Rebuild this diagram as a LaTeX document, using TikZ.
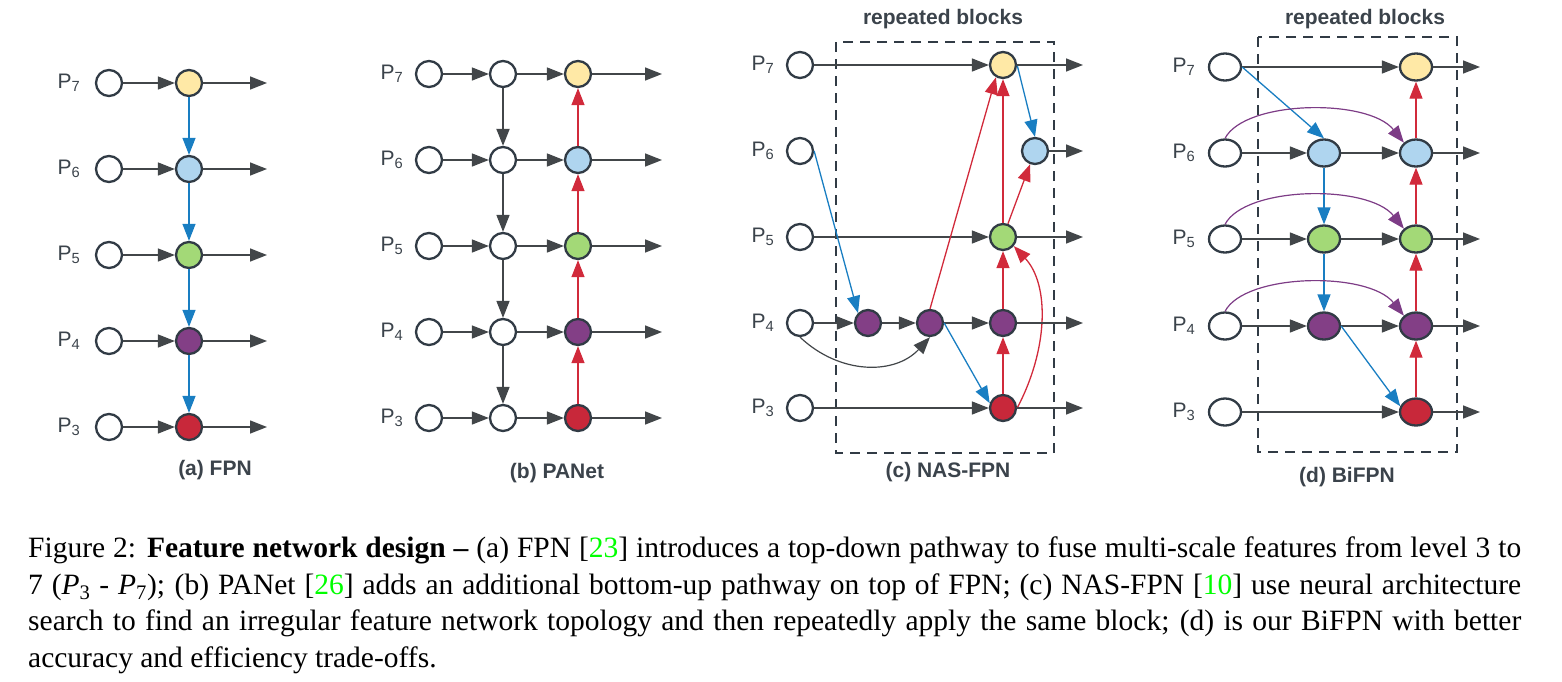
\documentclass[tikz,border=0pt]{standalone}
\usepackage{fontspec}
\setmainfont{Liberation Serif}
\setsansfont{Liberation Sans}
\usetikzlibrary{arrows.meta, positioning, shapes.geometric}
\definecolor{nodeline}{HTML}{313B45}
\definecolor{txtgray}{HTML}{3B434B}
\definecolor{arrgray}{HTML}{424649}
\definecolor{myyellow}{HTML}{FFE9A6}
\definecolor{myblue}{HTML}{AFD5EF}
\definecolor{mygreen}{HTML}{A3D977}
\definecolor{mypurple}{HTML}{833F86}
\definecolor{myred}{HTML}{C8283A}
\definecolor{upred}{HTML}{D12A3B}
\definecolor{downblue}{HTML}{197EC2}
\definecolor{skippurple}{HTML}{7D3C86}
\definecolor{citegreen}{HTML}{00FF00}
\tikzset{
	defaultnode/.style={
			circle,
			draw=nodeline,
			line width=2.3pt,
			fill=white,
			minimum size=26pt,
			inner sep=0pt
		},
	ovalnode/.style={
			defaultnode,
			ellipse,
			minimum width=32pt,
			minimum height=27pt
		},
	yellownode/.style={fill=myyellow},
	bluenode/.style={fill=myblue},
	greennode/.style={fill=mygreen},
	purplenode/.style={fill=mypurple},
	rednode/.style={fill=myred},
	flow/.style={
			-{Triangle[length=17pt,width=13pt]},
			draw=arrgray,
			line width=1.5pt
		},
	downflow/.style={flow, draw=downblue, line width=1.3pt},
	upflow/.style={flow, draw=upred, line width=1.3pt},
	sideflow/.style={flow, draw=skippurple, line width=1.2pt},
	levellabel/.style={
			font=\sffamily\fontsize{21}{24}\selectfont,
			text=txtgray,
			inner sep=0pt
		},
	panellabel/.style={
			font=\sffamily\bfseries\fontsize{21}{24}\selectfont,
			text=txtgray,
			inner sep=0pt
		},
	blockbox/.style={
			draw=nodeline,
			line width=2.3pt,
			dash pattern=on 10pt off 7pt
		}
}

\begin{document}
\begin{tikzpicture}[x=1pt, y=-1pt]
    \useasboundingbox (0,0) rectangle (1562,681);

    % (a) FPN
    \node[levellabel] (la7) at (69,83) {P\textsubscript{7}};
    \node[levellabel] (la6) at (69,169) {P\textsubscript{6}};
    \node[levellabel] (la5) at (69,255) {P\textsubscript{5}};
    \node[levellabel] (la4) at (69,341) {P\textsubscript{4}};
    \node[levellabel] (la3) at (69,427) {P\textsubscript{3}};
    \node[defaultnode] (a7) at (109,83) {};
    \node[defaultnode] (a6) at (109,169) {};
    \node[defaultnode] (a5) at (109,255) {};
    \node[defaultnode] (a4) at (109,341) {};
    \node[defaultnode] (a3) at (109,427) {};
    \node[defaultnode, yellownode] (ay) at (189,83) {};
    \node[defaultnode, bluenode] (ab) at (189,169) {};
    \node[defaultnode, greennode] (ag) at (189,255) {};
    \node[defaultnode, purplenode] (ap) at (189,341) {};
    \node[defaultnode, rednode] (ar) at (189,427) {};
    \coordinate (ao7) at (267,83);
    \coordinate (ao6) at (267,169);
    \coordinate (ao5) at (267,255);
    \coordinate (ao4) at (267,341);
    \coordinate (ao3) at (267,427);

    \draw[flow] (a7) -- (ay);
    \draw[flow] (a6) -- (ab);
    \draw[flow] (a5) -- (ag);
    \draw[flow] (a4) -- (ap);
    \draw[flow] (a3) -- (ar);
    \draw[flow] (ay) -- (ao7);
    \draw[flow] (ab) -- (ao6);
    \draw[flow] (ag) -- (ao5);
    \draw[flow] (ap) -- (ao4);
    \draw[flow] (ar) -- (ao3);
    \draw[downflow] (ay) -- (ab);
    \draw[downflow] (ab) -- (ag);
    \draw[downflow] (ag) -- (ap);
    \draw[downflow] (ap) -- (ar);
    \node[panellabel] (ta) at (215,470) {(a) FPN};

    % (b) PANet
    \node[levellabel] (lb7) at (392,74) {P\textsubscript{7}};
    \node[levellabel] (lb6) at (392,160) {P\textsubscript{6}};
    \node[levellabel] (lb5) at (392,246) {P\textsubscript{5}};
    \node[levellabel] (lb4) at (392,332) {P\textsubscript{4}};
    \node[levellabel] (lb3) at (392,418) {P\textsubscript{3}};
    \node[defaultnode] (b7) at (429,74) {};
    \node[defaultnode] (b6) at (429,160) {};
    \node[defaultnode] (b5) at (429,246) {};
    \node[defaultnode] (b4) at (429,332) {};
    \node[defaultnode] (b3) at (429,418) {};
    \node[defaultnode] (bm7) at (503,74) {};
    \node[defaultnode] (bm6) at (503,160) {};
    \node[defaultnode] (bm5) at (503,246) {};
    \node[defaultnode] (bm4) at (503,332) {};
    \node[defaultnode] (bm3) at (503,418) {};
    \node[defaultnode, yellownode] (by) at (578,74) {};
    \node[defaultnode, bluenode] (bb) at (578,160) {};
    \node[defaultnode, greennode] (bg) at (578,246) {};
    \node[defaultnode, purplenode] (bp) at (578,332) {};
    \node[defaultnode, rednode] (br) at (578,418) {};
    \coordinate (bo7) at (662,74);
    \coordinate (bo6) at (662,160);
    \coordinate (bo5) at (662,246);
    \coordinate (bo4) at (662,332);
    \coordinate (bo3) at (662,418);

    \draw[flow] (b7) -- (bm7);
    \draw[flow] (b6) -- (bm6);
    \draw[flow] (b5) -- (bm5);
    \draw[flow] (b4) -- (bm4);
    \draw[flow] (b3) -- (bm3);
    \draw[flow] (bm7) -- (by);
    \draw[flow] (bm6) -- (bb);
    \draw[flow] (bm5) -- (bg);
    \draw[flow] (bm4) -- (bp);
    \draw[flow] (bm3) -- (br);
    \draw[flow] (by) -- (bo7);
    \draw[flow] (bb) -- (bo6);
    \draw[flow] (bg) -- (bo5);
    \draw[flow] (bp) -- (bo4);
    \draw[flow] (br) -- (bo3);
    \draw[flow, line width=1.9pt] (bm7) -- (bm6);
    \draw[flow] (bm6) -- (bm5);
    \draw[flow] (bm5) -- (bm4);
    \draw[flow] (bm4) -- (bm3);
    \draw[upflow] (br) -- (bp);
    \draw[upflow] (bp) -- (bg);
    \draw[upflow] (bg) -- (bb);
    \draw[upflow] (bb) -- (by);
    \node[panellabel] (tb) at (557,473) {(b) PANet};

    % (c) NAS-FPN
    \draw[blockbox] (836,42) rectangle (1054,453);
    \node[panellabel] (rc) at (943,19) {repeated blocks};
    \node[levellabel] (lc7) at (763,65) {P\textsubscript{7}};
    \node[levellabel] (lc6) at (763,151) {P\textsubscript{6}};
    \node[levellabel] (lc5) at (763,237) {P\textsubscript{5}};
    \node[levellabel] (lc4) at (763,323) {P\textsubscript{4}};
    \node[levellabel] (lc3) at (763,408) {P\textsubscript{3}};
    \node[defaultnode] (c7) at (800,65) {};
    \node[defaultnode] (c6) at (800,151) {};
    \node[defaultnode] (c5) at (800,237) {};
    \node[defaultnode] (c4) at (800,323) {};
    \node[defaultnode] (c3) at (800,408) {};
    \node[defaultnode, purplenode] (cp1) at (868,323) {};
    \node[defaultnode, purplenode] (cp2) at (930,323) {};
    \node[defaultnode, purplenode] (cp3) at (1003,323) {};
    \node[defaultnode, yellownode] (cy) at (1003,65) {};
    \node[defaultnode, bluenode] (cb) at (1035,151) {};
    \node[defaultnode, greennode] (cg) at (1003,237) {};
    \node[defaultnode, rednode] (cr) at (1003,408) {};
    \coordinate (co7) at (1083,65);
    \coordinate (co6) at (1083,151);
    \coordinate (co5) at (1083,237);
    \coordinate (co4) at (1083,323);
    \coordinate (co3) at (1083,408);

    \draw[flow] (c7) -- (cy);
    \draw[flow] (c5) -- (cg);
    \draw[flow] (c4) -- (cp1);
    \draw[flow] (c3) -- (cr);
    \draw[flow] (cp1) -- (cp2);
    \draw[flow] (cp2) -- (cp3);
    \draw[flow, line width=1.2pt] (c4.south) .. controls (840,375) and (895,375) .. (cp2.south);
    \draw[downflow] (c6.east) -- (cp1.north west);
    \draw[downflow] (cp2.east) -- (cr.160);
    \draw[downflow] (cy.east) -- (cb.north);
    \draw[upflow] (cp2.north) -- (cy.240);
    \draw[upflow] (cr) -- (cp3);
    \draw[upflow] (cp3) -- (cg);
    \draw[upflow] (cg) -- (cy);
    \draw[upflow] (cg) -- (cb);
    \draw[upflow] (cr.east) .. controls (1048,350) and (1050,285) .. (cg.-40);
    \draw[flow] (cy) -- (co7);
    \draw[flow] (cb) -- (co6);
    \draw[flow] (cg) -- (co5);
    \draw[flow] (cp3) -- (co4);
    \draw[flow] (cr) -- (co3);
    \node[panellabel] (tc) at (948,472) {(c) NAS-FPN};

    % (d) BiFPN
    \draw[blockbox] (1258,37) rectangle (1457,452);
    \node[panellabel] (rd) at (1365,19) {repeated blocks};
    \node[levellabel] (ld7) at (1184,67) {P\textsubscript{7}};
    \node[levellabel] (ld6) at (1184,153) {P\textsubscript{6}};
    \node[levellabel] (ld5) at (1184,239) {P\textsubscript{5}};
    \node[levellabel] (ld4) at (1184,326) {P\textsubscript{4}};
    \node[levellabel] (ld3) at (1184,412) {P\textsubscript{3}};
    \node[ovalnode] (d7) at (1225,67) {};
    \node[ovalnode] (d6) at (1225,153) {};
    \node[ovalnode] (d5) at (1225,239) {};
    \node[ovalnode] (d4) at (1225,326) {};
    \node[ovalnode] (d3) at (1225,412) {};
    \node[ovalnode, bluenode] (db1) at (1324,153) {};
    \node[ovalnode, greennode] (dg1) at (1324,239) {};
    \node[ovalnode, purplenode] (dp1) at (1324,326) {};
    \node[ovalnode, yellownode] (dy) at (1416,67) {};
    \node[ovalnode, bluenode] (db2) at (1416,153) {};
    \node[ovalnode, greennode] (dg2) at (1416,239) {};
    \node[ovalnode, purplenode] (dp2) at (1416,326) {};
    \node[ovalnode, rednode] (dr) at (1416,412) {};
    \coordinate (do7) at (1480,67);
    \coordinate (do6) at (1480,153);
    \coordinate (do5) at (1480,239);
    \coordinate (do4) at (1480,326);
    \coordinate (do3) at (1480,412);

    \draw[flow] (d7) -- (dy);
    \draw[flow] (d6) -- (db1);
    \draw[flow] (d5) -- (dg1);
    \draw[flow] (d4) -- (dp1);
    \draw[flow] (d3) -- (dr);
    \draw[flow] (db1) -- (db2);
    \draw[flow] (dg1) -- (dg2);
    \draw[flow] (dp1) -- (dp2);
    \draw[downflow] (d7.east) -- (db1.north);
    \draw[downflow] (db1) -- (dg1);
    \draw[downflow] (dg1) -- (dp1);
    \draw[downflow] (dp1.east) -- (dr.160);
    \draw[sideflow] (d6.north) .. controls (1245,100) and (1368,98) .. (db2.north west);
    \draw[sideflow] (d5.north) .. controls (1245,186) and (1368,184) .. (dg2.north west);
    \draw[sideflow] (d4.north) .. controls (1245,273) and (1368,271) .. (dp2.north west);
    \draw[upflow] (dr) -- (dp2);
    \draw[upflow] (dp2) -- (dg2);
    \draw[upflow] (dg2) -- (db2);
    \draw[upflow] (db2) -- (dy);
    \draw[flow] (dy) -- (do7);
    \draw[flow] (db2) -- (do6);
    \draw[flow] (dg2) -- (do5);
    \draw[flow] (dp2) -- (do4);
    \draw[flow] (dr) -- (do3);
    \node[panellabel] (td) at (1347,477) {(d) BiFPN};

    % caption
    \node[anchor=north west, inner sep=0pt, text width=1493pt, align=justify,
          font=\fontsize{29.5}{36.5}\selectfont] (cap) at (28,537)
    {\tolerance=9999\emergencystretch=40pt\hyphenpenalty=10000 Figure 2: \textbf{Feature network design --} (a) FPN [\textcolor{citegreen}{23}] introduces a top-down pathway to fuse multi-scale features from level 3 to\linebreak
     7 (\textit{P}\textsubscript{3} - \textit{P}\textsubscript{7}); (b) PANet [\textcolor{citegreen}{26}] adds an additional bottom-up pathway on top of FPN; (c) NAS-FPN [\textcolor{citegreen}{10}] use neural architecture\linebreak
     search to find an irregular feature network topology and then repeatedly apply the same block; (d) is our BiFPN with better\linebreak
     accuracy and efficiency trade-offs.};
\end{tikzpicture}
\end{document}
